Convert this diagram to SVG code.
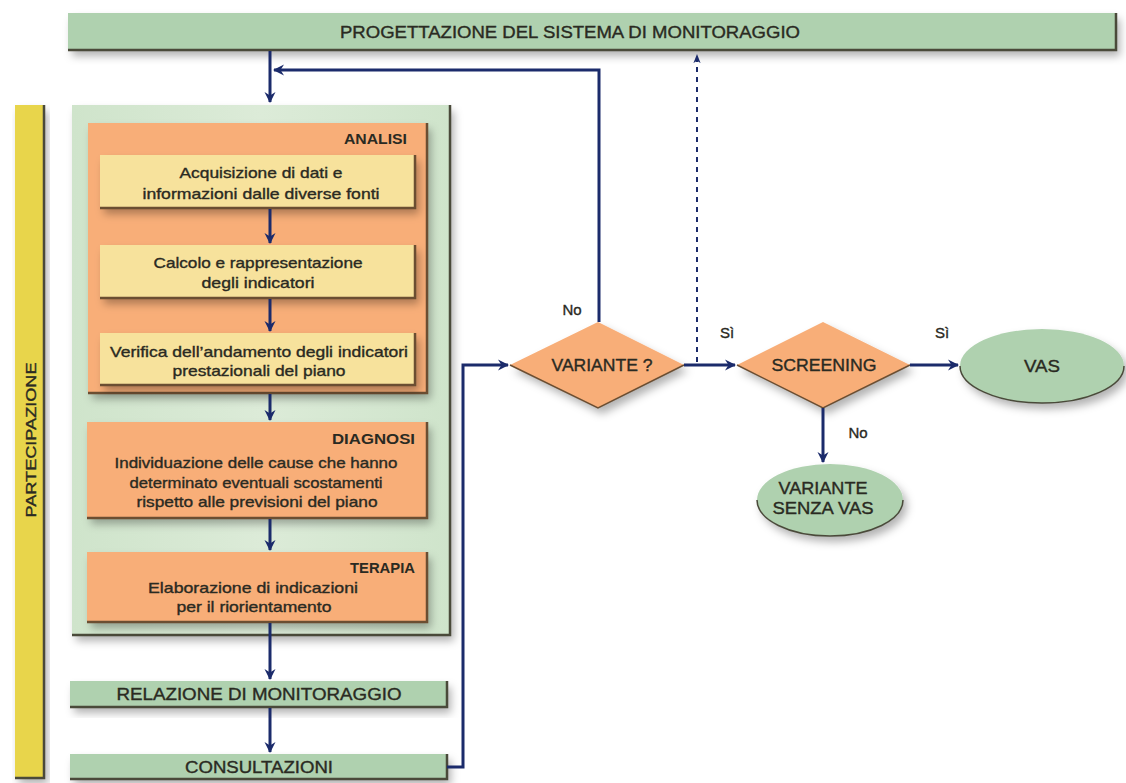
<svg xmlns="http://www.w3.org/2000/svg" width="1126" height="783" viewBox="0 0 1126 783">
  <defs>
    <filter id="sh" x="-10%" y="-10%" width="130%" height="150%">
      <feDropShadow dx="4" dy="6" stdDeviation="4" flood-color="#000" flood-opacity="0.3"/>
    </filter>
    <marker id="ah" viewBox="0 0 12 12" refX="10" refY="6" markerWidth="12" markerHeight="12" markerUnits="userSpaceOnUse" orient="auto">
      <path d="M0,0.5 L11,6 L0,11.5 L3.5,6 Z" fill="#1b2b6b"/>
    </marker>
    <marker id="ahd" viewBox="0 0 10 10" refX="9" refY="5" markerWidth="9" markerHeight="9" markerUnits="userSpaceOnUse" orient="auto">
      <path d="M0,1 L10,5 L0,9 L2.5,5 Z" fill="#1b2b6b"/>
    </marker>
    <linearGradient id="panelG" x1="0" y1="0" x2="1" y2="0">
      <stop offset="0" stop-color="#cfe4cb"/>
      <stop offset="0.5" stop-color="#dcebd8"/>
      <stop offset="1" stop-color="#cfe4cb"/>
    </linearGradient>
  </defs>
  <style>
    .t { font-family: "Liberation Sans", Arial, sans-serif; fill: #2a2a22; stroke: #2a2a22; stroke-width: 0.35; text-anchor: middle; }
    .hd { font-family: "Liberation Sans", Arial, sans-serif; fill: #2a2a22; font-weight: bold; text-anchor: end; font-size: 14px; }
    .body { font-size: 14.5px; }
    .cap { font-size: 16px; }
    .green { fill: #afd1af; }
    .orange { fill: #f8ae78; }
    .yel { fill: #f7e29c; }
    .edge { fill: none; stroke: #4a4a3a; stroke-width: 2.5; }
    .edgeo { fill: none; stroke: #6b4e32; stroke-width: 2.5; }
    .conn { fill: none; stroke: #1b2b6b; stroke-width: 3; }
    .lbl { font-family: "Liberation Sans", Arial, sans-serif; fill: #2a2a22; stroke: #2a2a22; stroke-width: 0.35; font-size: 15px; text-anchor: middle; }
  </style>

  <rect width="1126" height="783" fill="#ffffff"/>

  <!-- Top bar -->
  <g id="progettazione">
    <rect x="68" y="13" width="1048" height="37" class="green" filter="url(#sh)"/>
    <path d="M68,50 H1116 V13" class="edge"/>
    <text x="570" y="38" class="t cap" font-size="17" textLength="460" lengthAdjust="spacingAndGlyphs">PROGETTAZIONE DEL SISTEMA DI MONITORAGGIO</text>
  </g>

  <!-- Partecipazione bar -->
  <g id="partecipazione">
    <rect x="15" y="105" width="29" height="673" fill="#e8d54c" filter="url(#sh)"/>
    <path d="M15,778 H44 V105" class="edge"/>
    <text transform="translate(36,440) rotate(-90)" class="t" font-size="15" textLength="155" lengthAdjust="spacingAndGlyphs">PARTECIPAZIONE</text>
  </g>

  <!-- Green panel -->
  <g id="panel">
    <rect x="72" y="105" width="378" height="530" fill="url(#panelG)" filter="url(#sh)"/>
    <path d="M72,635 H450 V105" class="edge"/>
  </g>

  <!-- ANALISI -->
  <g id="analisi">
    <rect x="88" y="123" width="339" height="270" class="orange" filter="url(#sh)"/>
    <path d="M88,393 H427 V123" class="edgeo"/>
    <text x="407" y="144" class="hd" textLength="63" lengthAdjust="spacingAndGlyphs">ANALISI</text>
  </g>

  <g id="acquisizione">
    <rect x="100" y="155" width="315" height="53" class="yel" filter="url(#sh)"/>
    <path d="M100,208 H415 V155" class="edgeo"/>
    <text x="261" y="178" class="t body" textLength="163" lengthAdjust="spacingAndGlyphs">Acquisizione di dati e</text>
    <text x="261" y="199" class="t body" textLength="237" lengthAdjust="spacingAndGlyphs">informazioni dalle diverse fonti</text>
  </g>

  <g id="calcolo">
    <rect x="100" y="245" width="315" height="53" class="yel" filter="url(#sh)"/>
    <path d="M100,298 H415 V245" class="edgeo"/>
    <text x="258" y="268" class="t body" textLength="209" lengthAdjust="spacingAndGlyphs">Calcolo e rappresentazione</text>
    <text x="258" y="288" class="t body" textLength="113" lengthAdjust="spacingAndGlyphs">degli indicatori</text>
  </g>

  <g id="verifica">
    <rect x="100" y="333" width="315" height="52" class="yel" filter="url(#sh)"/>
    <path d="M100,385 H415 V333" class="edgeo"/>
    <text x="259" y="357" class="t body" textLength="298" lengthAdjust="spacingAndGlyphs">Verifica dell’andamento degli indicatori</text>
    <text x="259" y="376" class="t body" textLength="173" lengthAdjust="spacingAndGlyphs">prestazionali del piano</text>
  </g>

  <!-- DIAGNOSI -->
  <g id="diagnosi">
    <rect x="87" y="422" width="340" height="96" class="orange" filter="url(#sh)"/>
    <path d="M87,518 H427 V422" class="edgeo"/>
    <text x="415" y="444" class="hd" textLength="83" lengthAdjust="spacingAndGlyphs">DIAGNOSI</text>
    <text x="256" y="468" class="t body" textLength="283" lengthAdjust="spacingAndGlyphs">Individuazione delle cause che hanno</text>
    <text x="256" y="488" class="t body" textLength="253" lengthAdjust="spacingAndGlyphs">determinato eventuali scostamenti</text>
    <text x="257" y="507" class="t body" textLength="241" lengthAdjust="spacingAndGlyphs">rispetto alle previsioni del piano</text>
  </g>

  <!-- TERAPIA -->
  <g id="terapia">
    <rect x="87" y="552" width="340" height="70" class="orange" filter="url(#sh)"/>
    <path d="M87,622 H427 V552" class="edgeo"/>
    <text x="415" y="573" class="hd" textLength="65" lengthAdjust="spacingAndGlyphs">TERAPIA</text>
    <text x="253" y="593" class="t body" textLength="210" lengthAdjust="spacingAndGlyphs">Elaborazione di indicazioni</text>
    <text x="254" y="612" class="t body" textLength="155" lengthAdjust="spacingAndGlyphs">per il riorientamento</text>
  </g>

  <!-- Relazione -->
  <g id="relazione">
    <rect x="70" y="681" width="377" height="26" class="green" filter="url(#sh)"/>
    <path d="M70,707 H447 V681" class="edge"/>
    <text x="259" y="700" class="t cap" textLength="285" lengthAdjust="spacingAndGlyphs">RELAZIONE DI MONITORAGGIO</text>
  </g>

  <!-- Consultazioni -->
  <g id="consultazioni">
    <rect x="70" y="754" width="377" height="25" class="green" filter="url(#sh)"/>
    <path d="M70,779 H447 V754" class="edge"/>
    <text x="259" y="773" class="t cap" textLength="148" lengthAdjust="spacingAndGlyphs">CONSULTAZIONI</text>
  </g>

  <!-- VARIANTE ? -->
  <g id="variante">
    <polygon points="510,365 598,322 684,365 598,408" class="orange" filter="url(#sh)"/>
    <path d="M510,365 L598,408 L684,365" fill="none" stroke="#6b4e32" stroke-width="1.5"/>
    <text x="602" y="371" class="t cap" textLength="101" lengthAdjust="spacingAndGlyphs">VARIANTE ?</text>
  </g>

  <!-- SCREENING -->
  <g id="screening">
    <polygon points="737,365 823,322 910,365 823,408" class="orange" filter="url(#sh)"/>
    <path d="M737,365 L823,408 L910,365" fill="none" stroke="#6b4e32" stroke-width="1.5"/>
    <text x="824" y="371" class="t cap" textLength="105" lengthAdjust="spacingAndGlyphs">SCREENING</text>
  </g>

  <!-- VAS -->
  <g id="vas">
    <ellipse cx="1042" cy="366" rx="82" ry="37" class="green" filter="url(#sh)"/>
    <path d="M960,366 A82,37 0 0 0 1124,366" fill="none" stroke="#4a4a3a" stroke-width="1.5"/>
    <text x="1042" y="372" class="t cap" textLength="36" lengthAdjust="spacingAndGlyphs">VAS</text>
  </g>

  <!-- VARIANTE SENZA VAS -->
  <g id="variante-senza-vas">
    <ellipse cx="830" cy="500" rx="73" ry="36" class="green" filter="url(#sh)"/>
    <path d="M757,500 A73,36 0 0 0 903,500" fill="none" stroke="#4a4a3a" stroke-width="1.5"/>
    <text x="823" y="494" class="t cap" textLength="89" lengthAdjust="spacingAndGlyphs">VARIANTE</text>
    <text x="823" y="514" class="t cap" textLength="101" lengthAdjust="spacingAndGlyphs">SENZA VAS</text>
  </g>

  <!-- Connectors -->
  <g id="connectors">
    <line x1="270" y1="51" x2="270" y2="102" class="conn" marker-end="url(#ah)"/>
    <path d="M599,322 V70 H274" class="conn" marker-end="url(#ah)"/>
    <line x1="270" y1="209" x2="270" y2="243" class="conn" marker-end="url(#ah)"/>
    <line x1="270" y1="299" x2="270" y2="331" class="conn" marker-end="url(#ah)"/>
    <line x1="270" y1="394" x2="270" y2="420" class="conn" marker-end="url(#ah)"/>
    <line x1="270" y1="519" x2="270" y2="550" class="conn" marker-end="url(#ah)"/>
    <line x1="270" y1="623" x2="270" y2="679" class="conn" marker-end="url(#ah)"/>
    <line x1="270" y1="708" x2="270" y2="752" class="conn" marker-end="url(#ah)"/>
    <path d="M447,767 H463 V365 H508" class="conn" marker-end="url(#ah)"/>
    <line x1="684" y1="365" x2="735" y2="365" class="conn" marker-end="url(#ah)"/>
    <line x1="697" y1="362" x2="697" y2="55" fill="none" stroke="#1b2b6b" stroke-width="2" stroke-dasharray="5,5" marker-end="url(#ahd)"/>
    <line x1="910" y1="365" x2="958" y2="365" class="conn" marker-end="url(#ah)"/>
    <line x1="823" y1="408" x2="823" y2="462" class="conn" marker-end="url(#ah)"/>
    <text x="572" y="315" class="lbl">No</text>
    <text x="727" y="338" class="lbl">Sì</text>
    <text x="942" y="338" class="lbl">Sì</text>
    <text x="858" y="438" class="lbl">No</text>
  </g>
</svg>
